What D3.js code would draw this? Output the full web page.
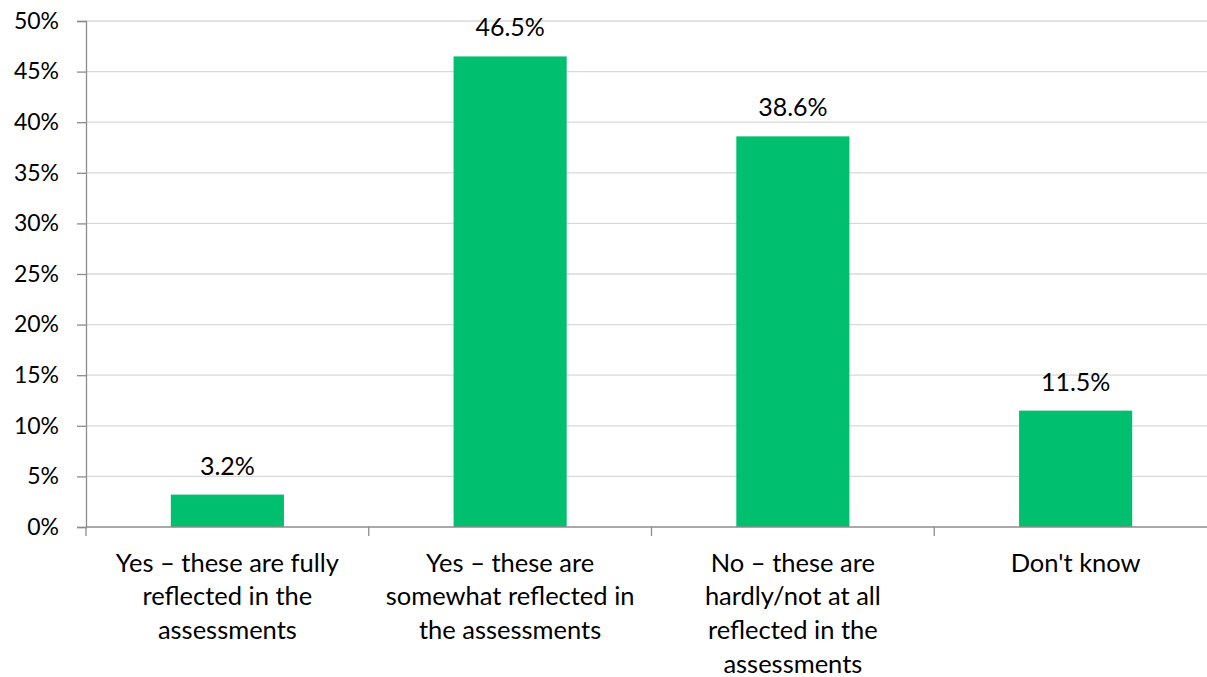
<!DOCTYPE html>
<html>
<head>
<meta charset="utf-8">
<script src="https://cdn.jsdelivr.net/npm/d3@7"></script>
<style>
  html, body { margin: 0; padding: 0; background: #fff; }
  svg { display: block; }
  text { font-family: Lato, "Open Sans", sans-serif; fill: #000; }
</style>
</head>
<body>
<svg id="chart" width="1207" height="677"></svg>
<script>
// Survey responses (share of respondents, %)
const categories = [
  "Yes \u2013 these are fully reflected in the assessments",
  "Yes \u2013 these are somewhat reflected in the assessments",
  "No \u2013 these are hardly/not at all reflected in the assessments",
  "Don't know"
];
const labelLines = [
  ["Yes \u2013 these are fully", "reflected in the", "assessments"],
  ["Yes \u2013 these are", "somewhat reflected in", "the assessments"],
  ["No \u2013 these are", "hardly/not at all", "reflected in the", "assessments"],
  ["Don't know"]
];
const values = [3.2, 46.5, 38.6, 11.5];
const yTicks = [0, 5, 10, 15, 20, 25, 30, 35, 40, 45, 50];

const svg = d3.select("#chart");
const plotLeft = 86, plotRight = 1217, plotTop = 21, plotBottom = 527;

const x = d3.scaleBand()
  .domain(categories)
  .range([plotLeft, plotRight])
  .paddingInner(0.6)
  .paddingOuter(0.3);

const y = d3.scaleLinear().domain([0, 50]).range([plotBottom, plotTop]);

// horizontal gridlines
svg.append("g")
  .selectAll("line")
  .data(yTicks.filter(d => d > 0))
  .join("line")
  .attr("x1", plotLeft).attr("x2", plotRight)
  .attr("y1", d => y(d)).attr("y2", d => y(d))
  .attr("stroke", "#d9d9d9").attr("stroke-width", 1.3);

// bars
svg.append("g")
  .selectAll("rect")
  .data(values)
  .join("rect")
  .attr("x", (d, i) => x(categories[i]))
  .attr("width", x.bandwidth())
  .attr("y", d => y(d))
  .attr("height", d => y(0) - y(d))
  .attr("fill", "#00bf6f");

// value labels
svg.append("g")
  .selectAll("text")
  .data(values)
  .join("text")
  .attr("x", (d, i) => x(categories[i]) + x.bandwidth() / 2)
  .attr("y", d => y(d) - 20)
  .attr("text-anchor", "middle")
  .style("font-size", "25px")
  .text(d => d.toFixed(1) + "%");

// y axis
const yAxis = svg.append("g")
  .attr("transform", `translate(${plotLeft},0)`)
  .call(d3.axisLeft(y).tickValues(yTicks).tickFormat(d => d + "%").tickSize(9).tickPadding(18));
yAxis.select(".domain").attr("stroke", "#8c8c8c").attr("stroke-width", 1.3);
yAxis.selectAll(".tick line").attr("stroke", "#8c8c8c").attr("stroke-width", 1.3);
yAxis.selectAll(".tick text")
  .style("font-size", "23px")
  .style("font-family", "Lato, 'Open Sans', sans-serif")
  .attr("fill", "#000");

// x axis with category separators
const sepStep = (plotRight - plotLeft) / categories.length;
svg.append("line")
  .attr("x1", plotLeft).attr("x2", plotRight)
  .attr("y1", plotBottom).attr("y2", plotBottom)
  .attr("stroke", "#8c8c8c").attr("stroke-width", 1.3);
svg.append("g")
  .selectAll("line")
  .data(d3.range(categories.length + 1))
  .join("line")
  .attr("x1", i => plotLeft + i * sepStep)
  .attr("x2", i => plotLeft + i * sepStep)
  .attr("y1", plotBottom).attr("y2", plotBottom + 9)
  .attr("stroke", "#8c8c8c").attr("stroke-width", 1.3);

// category labels
const catG = svg.append("g");
categories.forEach((c, i) => {
  const cx = x(c) + x.bandwidth() / 2;
  const t = catG.append("text")
    .attr("x", cx)
    .attr("y", 571.5)
    .attr("text-anchor", "middle")
    .style("font-size", "25.5px");
  labelLines[i].forEach((line, j) => {
    t.append("tspan")
      .attr("x", cx)
      .attr("dy", j === 0 ? 0 : 33.8)
      .text(line);
  });
});
</script>
</body>
</html>
